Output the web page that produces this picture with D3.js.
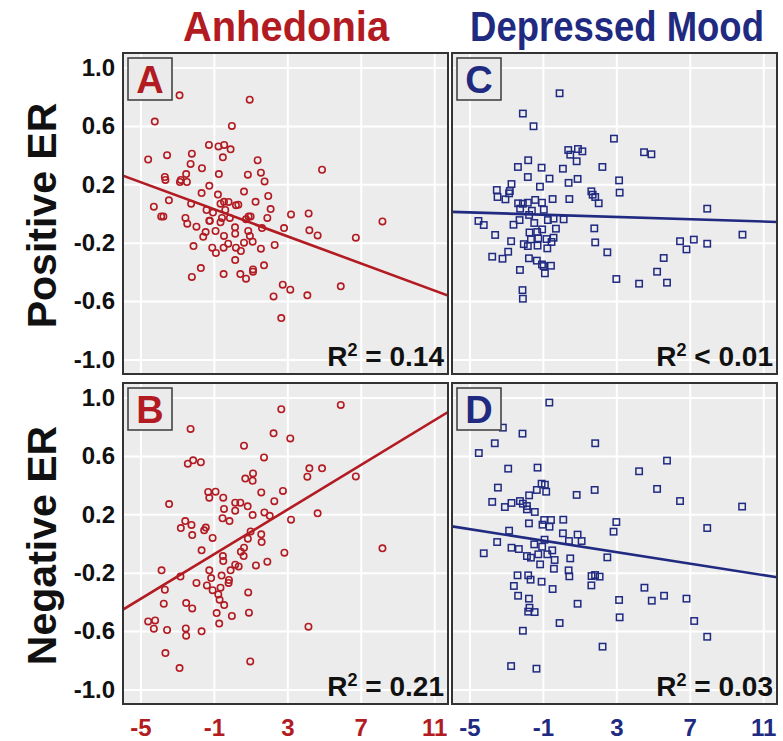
<!DOCTYPE html>
<html>
<head>
<meta charset="utf-8">
<script src="https://cdn.jsdelivr.net/npm/d3@7"></script>
<style>
  body { margin: 0; background: #fff; }
  svg { display: block; font-family: "Liberation Sans", Arial, sans-serif; font-weight: bold; }
</style>
</head>
<body>
<svg class="chart"></svg>
<script>
// values, [symptom score, ER]
var anhedoniaPositive = [[-2.87,0.81],[0.95,0.78],[-4.22,0.63],[-0.02,0.60],[-4.58,0.37],[-3.55,0.40],[-2.20,0.41],[-1.27,0.47],[-0.75,0.46],[-0.44,0.47],[-0.09,0.44],[-0.51,0.385],[1.38,0.365],[-2.27,0.34],[-1.65,0.31],[4.89,0.30],[-0.73,0.27],[0.85,0.266],[1.56,0.28],[-2.51,0.27],[-3.67,0.25],[-3.64,0.23],[-2.80,0.23],[-2.85,0.216],[-2.47,0.216],[1.76,0.22],[-1.25,0.19],[-1.67,0.14],[-0.78,0.13],[0.64,0.15],[1.96,0.12],[-3.45,0.09],[-4.27,0.047],[-2.24,0.067],[-0.45,0.08],[-0.20,0.079],[-0.64,0.067],[0.20,0.056],[0.33,0.06],[1.27,0.08],[2.09,0.03],[-1.40,0.024],[-1.05,0.006],[-3.87,-0.02],[-3.75,-0.02],[-2.55,-0.03],[-1.22,-0.05],[-0.56,-0.03],[-0.13,-0.03],[0.89,-0.02],[1.00,-0.02],[1.91,-0.03],[3.20,-0.006],[4.16,0.0],[-2.45,-0.07],[-1.95,-0.09],[-1.25,-0.05],[-0.64,-0.06],[0.15,-0.095],[1.62,-0.10],[2.82,-0.10],[4.20,-0.115],[4.65,-0.15],[6.73,-0.166],[8.18,-0.054],[-1.45,-0.127],[-1.58,-0.16],[-0.91,-0.12],[-0.45,-0.154],[0.16,-0.138],[0.87,-0.12],[0.96,-0.154],[-2.11,-0.223],[-1.09,-0.234],[-0.89,-0.27],[-0.47,-0.234],[-0.22,-0.207],[0.20,-0.234],[0.47,-0.257],[0.64,-0.20],[1.11,-0.193],[1.56,-0.241],[2.31,-0.216],[0.16,-0.319],[-1.71,-0.374],[-2.20,-0.435],[-0.47,-0.415],[0.44,-0.415],[0.75,-0.447],[1.13,-0.399],[1.13,-0.383],[1.73,-0.355],[2.75,-0.488],[3.16,-0.522],[2.25,-0.568],[4.09,-0.561],[5.91,-0.499],[2.67,-0.717],[0.75,-0.04],[-0.38,0.024]];

var anhedoniaNegative = [[5.91,0.95],[2.67,0.92],[-2.27,0.785],[2.25,0.755],[3.16,0.72],[0.64,0.67],[1.73,0.59],[-2.42,0.547],[-2.13,0.57],[-1.71,0.557],[4.2,0.515],[4.89,0.515],[4.09,0.458],[6.73,0.46],[1.13,0.48],[0.71,0.445],[1.11,0.43],[-1.31,0.353],[-0.91,0.355],[-1.25,0.314],[-0.49,0.314],[1.58,0.35],[2.76,0.36],[-3.44,0.27],[0.16,0.28],[0.44,0.28],[0.84,0.255],[2.29,0.29],[-0.45,0.237],[0.16,0.225],[1.11,0.195],[1.75,0.213],[4.65,0.207],[-0.53,0.173],[-0.15,0.154],[2.04,0.19],[3.2,0.163],[-2.56,0.154],[-2.22,0.127],[-2.8,0.106],[-1.44,0.109],[-1.53,0.09],[-2.18,0.058],[-1.07,0.038],[1.0,0.083],[1.58,0.063],[0.85,0.033],[1.6,0.01],[-1.67,-0.047],[0.47,-0.056],[0.64,-0.029],[0.62,-0.086],[2.84,-0.063],[-0.51,-0.086],[-0.49,-0.12],[1.91,-0.125],[1.29,-0.15],[0.16,-0.145],[0.35,-0.157],[-0.09,-0.184],[-3.85,-0.184],[-1.25,-0.184],[-1.15,-0.237],[-0.58,-0.22],[-0.18,-0.25],[-0.2,-0.27],[-2.82,-0.227],[-1.95,-0.27],[-1.38,-0.287],[-0.64,-0.303],[-1.07,-0.32],[-3.67,-0.317],[-0.76,-0.349],[-0.69,-0.385],[-0.44,-0.422],[0.87,-0.335],[-3.73,-0.413],[-2.51,-0.408],[-2.18,-0.445],[-0.85,-0.477],[-0.02,-0.497],[0.91,-0.474],[-4.58,-0.534],[-4.2,-0.527],[-4.27,-0.584],[-3.55,-0.593],[-2.53,-0.582],[-2.51,-0.632],[-1.67,-0.602],[-0.71,-0.549],[4.15,-0.57],[8.18,-0.033],[-3.64,-0.751],[-2.87,-0.854],[0.98,-0.808]];

var moodPositive = [[-0.09,0.824],[-2.09,0.685],[-1.51,0.598],[2.87,0.513],[4.51,0.42],[4.91,0.406],[0.38,0.435],[0.91,0.442],[1.15,0.426],[0.49,0.403],[0.84,0.358],[-1.8,0.365],[-2.36,0.319],[-1.07,0.314],[0.09,0.307],[2.24,0.319],[-1.82,0.25],[-0.64,0.239],[0.89,0.237],[0.4,0.21],[3.15,0.227],[-2.71,0.202],[-1.16,0.184],[-3.51,0.161],[-2.8,0.154],[-3.47,0.113],[-3.04,0.097],[-2.84,0.138],[3.18,0.143],[1.64,0.152],[1.71,0.129],[1.85,0.113],[2.04,0.07],[0.44,0.099],[-0.47,0.099],[-2.35,0.07],[-2.09,0.067],[-1.82,0.074],[-1.42,0.093],[-1.05,0.074],[-2.24,0.033],[-1.6,0.019],[-0.95,0.026],[7.95,0.033],[-1.75,-0.01],[-4.51,-0.051],[-4.22,-0.079],[-2.6,-0.077],[-2.27,-0.045],[-1.47,-0.065],[-0.73,-0.045],[-0.42,-0.035],[0.13,-0.04],[1.8,-0.102],[-0.29,-0.104],[-1.04,-0.109],[-1.73,-0.13],[-1.31,-0.127],[-3.6,-0.147],[9.87,-0.145],[-1.65,-0.177],[-1.25,-0.17],[-0.8,-0.175],[-0.42,-0.166],[-2.73,-0.19],[1.85,-0.198],[6.47,-0.19],[7.22,-0.179],[7.95,-0.207],[6.82,-0.246],[-2.04,-0.21],[-1.82,-0.223],[-1.29,-0.22],[-0.76,-0.239],[-0.53,-0.195],[2.51,-0.266],[-2.89,-0.262],[-3.76,-0.296],[-3.2,-0.31],[-1.76,-0.307],[-1.33,-0.323],[-1.05,-0.349],[-0.56,-0.358],[-0.89,-0.41],[-2.25,-0.387],[5.58,-0.305],[5.22,-0.399],[5.76,-0.474],[3.0,-0.449],[4.24,-0.481],[-2.11,-0.525],[-2.09,-0.584],[-0.96,-0.36]];

var moodNegative = [[-0.65,0.966],[-3.18,0.794],[-2.11,0.753],[-3.62,0.687],[1.85,0.687],[-4.49,0.62],[5.76,0.568],[-2.89,0.513],[-1.29,0.52],[4.24,0.495],[-1.07,0.41],[-0.89,0.403],[-1.33,0.367],[-0.82,0.355],[-3.45,0.383],[1.82,0.367],[5.22,0.374],[0.84,0.333],[-1.75,0.33],[-3.76,0.285],[-3.07,0.25],[-2.71,0.278],[-2.25,0.291],[-2.09,0.273],[-1.87,0.257],[-1.87,0.234],[6.47,0.291],[9.85,0.253],[-1.44,0.216],[-1.76,0.138],[-0.93,0.161],[-0.56,0.161],[-1.02,0.129],[-0.64,0.115],[0.11,0.163],[3.0,0.147],[2.85,0.081],[7.95,0.106],[-2.84,0.088],[0.09,0.07],[0.89,0.061],[1.11,0.017],[0.42,0.017],[-3.49,0.01],[-1.47,-0.006],[-0.91,0.026],[-1.04,-0.022],[-2.71,-0.029],[-2.31,-0.038],[-0.49,-0.047],[-4.22,-0.067],[-1.87,-0.086],[-1.65,-0.097],[-1.25,-0.074],[-0.76,-0.074],[-0.36,-0.113],[0.49,-0.102],[2.51,-0.095],[-1.15,-0.143],[-0.4,-0.173],[0.4,-0.184],[-2.38,-0.218],[-1.8,-0.218],[-1.67,-0.248],[-1.07,-0.262],[0.44,-0.225],[1.65,-0.223],[1.84,-0.216],[2.09,-0.227],[1.64,-0.287],[-2.58,-0.291],[-0.47,-0.312],[4.53,-0.303],[-2.35,-0.358],[-1.76,-0.378],[3.15,-0.387],[4.93,-0.392],[5.6,-0.358],[6.82,-0.378],[0.89,-0.413],[-1.73,-0.44],[-1.8,-0.467],[-1.45,-0.47],[3.18,-0.506],[-0.09,-0.545],[7.24,-0.531],[-2.09,-0.598],[7.95,-0.639],[2.25,-0.707],[-2.73,-0.84],[-1.35,-0.858]];

// fitted lines, panels A B C D
var fitIntercepts = [-0.017, 0.002, -0.012, 0.0];
var fitSlopes = [-0.0464, 0.0765, -0.0039, -0.0197];
var r2Labels = ["= 0.14", "= 0.21", "< 0.01", "= 0.03"];
var panelLetters = ["A", "B", "C", "D"];

var columnTitles = ["Anhedonia", "Depressed Mood"];
var rowTitles = ["Positive ER", "Negative ER"];
var xTicks = [-5, -1, 3, 7, 11];
var yTicks = [-1.0, -0.6, -0.2, 0.2, 0.6, 1.0];

var red = "#b31b22", navy = "#202a80";

var width = 783, height = 741;
var chart = d3.select(".chart").attr("width", width).attr("height", height);

var colLeft = [123, 452], rowTop = [53, 383];
var panelW = 325, panelH = 321;

var panels = [
  { data: anhedoniaPositive, col: 0, row: 0, i: 0 },
  { data: anhedoniaNegative, col: 0, row: 1, i: 1 },
  { data: moodPositive, col: 1, row: 0, i: 2 },
  { data: moodNegative, col: 1, row: 1, i: 3 }
];

panels.forEach(function (p) {
  var color = p.col === 0 ? red : navy;
  var x = d3.scaleLinear().domain([-5.95, 11.75]).range([0, panelW]);
  var y = d3.scaleLinear().domain([-1.1, 1.1]).range([panelH, 0]);

  var g = chart.append("g")
    .attr("transform", "translate(" + colLeft[p.col] + "," + rowTop[p.row] + ")");

  g.append("clipPath").attr("id", "clip" + p.i)
    .append("rect").attr("width", panelW).attr("height", panelH);

  g.append("rect")
    .attr("width", panelW).attr("height", panelH)
    .attr("fill", "#ececec");

  // grid
  g.append("g")
    .attr("transform", "translate(0," + panelH + ")")
    .call(d3.axisBottom(x).tickValues(xTicks).tickSize(-panelH).tickFormat(""))
    .call(s => s.select(".domain").remove())
    .call(s => s.selectAll("line").attr("stroke", "#fff").attr("stroke-width", 2));
  g.append("g")
    .call(d3.axisLeft(y).tickValues(yTicks).tickSize(-panelW).tickFormat(""))
    .call(s => s.select(".domain").remove())
    .call(s => s.selectAll("line").attr("stroke", "#fff").attr("stroke-width", 2));

  var plot = g.append("g").attr("clip-path", "url(#clip" + p.i + ")");

  if (p.col === 0) {
    plot.selectAll("circle").data(p.data)
      .enter().append("circle")
        .attr("cx", d => x(d[0]))
        .attr("cy", d => y(d[1]))
        .attr("r", 3.2)
        .attr("fill", "none")
        .attr("stroke", color)
        .attr("stroke-width", 1.6);
  } else {
    plot.selectAll("rect.pt").data(p.data)
      .enter().append("rect")
        .attr("class", "pt")
        .attr("x", d => x(d[0]) - 3.2)
        .attr("y", d => y(d[1]) - 3.2)
        .attr("width", 6.4).attr("height", 6.4)
        .attr("fill", "none")
        .attr("stroke", color)
        .attr("stroke-width", 1.5);
  }

  var xs = x.domain();
  plot.append("line")
    .attr("x1", x(xs[0])).attr("y1", y(fitIntercepts[p.i] + fitSlopes[p.i] * xs[0]))
    .attr("x2", x(xs[1])).attr("y2", y(fitIntercepts[p.i] + fitSlopes[p.i] * xs[1]))
    .attr("stroke", color).attr("stroke-width", 2.6);

  // panel letter box
  g.append("rect")
    .attr("x", 5).attr("y", 5).attr("width", 44).attr("height", 42)
    .attr("fill", "#ebebeb").attr("stroke", "#444").attr("stroke-width", 1.6);
  g.append("text")
    .attr("x", 27).attr("y", 40)
    .attr("text-anchor", "middle")
    .attr("font-size", 38)
    .attr("fill", color)
    .text(panelLetters[p.i]);

  // R squared
  var r2 = g.append("text")
    .attr("x", panelW - 4).attr("y", panelH - 8)
    .attr("text-anchor", "end")
    .attr("font-size", 28)
    .attr("fill", "#111");
  r2.append("tspan").text("R");
  r2.append("tspan").attr("font-size", 18).attr("dy", -10).text("2");
  r2.append("tspan").attr("dy", 10).text(" " + r2Labels[p.i]);

  g.append("rect")
    .attr("width", panelW).attr("height", panelH)
    .attr("fill", "none").attr("stroke", "#333").attr("stroke-width", 2);

  // axes text
  if (p.col === 0) {
    g.append("g")
      .call(d3.axisLeft(y).tickValues(yTicks).tickSize(0).tickPadding(8).tickFormat(d => d.toFixed(1)))
      .call(s => s.select(".domain").remove())
      .call(s => s.selectAll("text").attr("font-size", 24).attr("font-weight", "bold")
        .attr("font-family", "Liberation Sans, Arial, sans-serif").attr("fill", "#111"));
  }
  if (p.row === 1) {
    g.append("g")
      .attr("transform", "translate(0," + panelH + ")")
      .call(d3.axisBottom(x).tickValues(xTicks).tickSize(0).tickPadding(15).tickFormat(d => String(d)))
      .call(s => s.select(".domain").remove())
      .call(s => s.selectAll("text").attr("font-size", 24).attr("font-weight", "bold")
        .attr("font-family", "Liberation Sans, Arial, sans-serif").attr("fill", color));
  }
});

// column titles, slightly tall and narrow like the original
var titleCenter = [286, 617], titleScaleX = [1.05, 0.96];
chart.selectAll("text.coltitle").data(columnTitles)
  .enter().append("text")
    .attr("class", "coltitle")
    .attr("transform", (d, i) => "translate(" + titleCenter[i] + ",41) scale(" + titleScaleX[i] + ",1.1)")
    .attr("text-anchor", "middle")
    .attr("font-size", 38)
    .attr("fill", (d, i) => i === 0 ? red : navy)
    .text(d => d);

// row titles
chart.selectAll("text.rowtitle").data(rowTitles)
  .enter().append("text")
    .attr("class", "rowtitle")
    .attr("transform", (d, i) => "translate(56," + (rowTop[i] + panelH / 2 + 2) + ") rotate(-90)")
    .attr("text-anchor", "middle")
    .attr("font-size", 41)
    .attr("fill", "#111")
    .text(d => d);
</script>
</body>
</html>
